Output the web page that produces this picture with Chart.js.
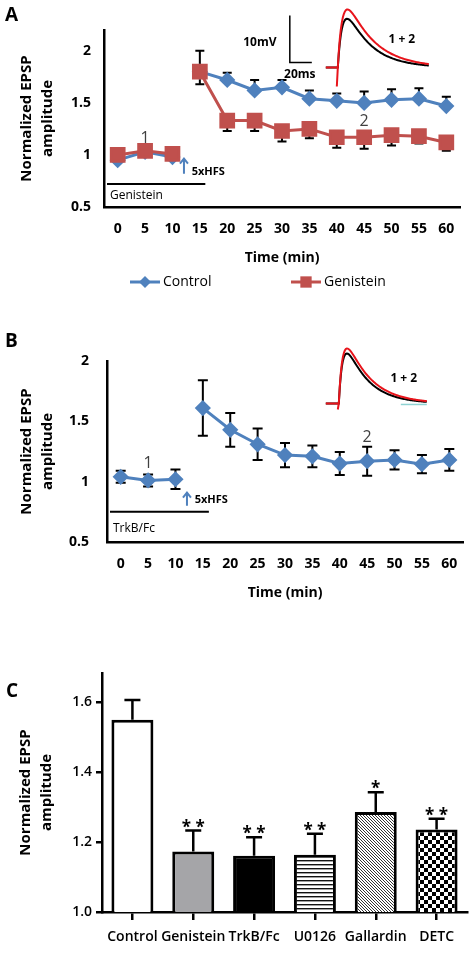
<!DOCTYPE html>
<html>
<head>
<meta charset="utf-8">
<script src="https://cdn.jsdelivr.net/npm/chart.js@4.4.0/dist/chart.umd.min.js"></script>
<style>
  html, body { margin: 0; padding: 0; background: #fff; }
  body { width: 472px; height: 961px; position: relative; overflow: hidden; }
  canvas { position: absolute; left: 0; }
  #chartA { top: 0; }
  #chartB { top: 300px; }
  #chartC { top: 620px; }
</style>
</head>
<body>
<canvas id="chartA" width="472" height="300"></canvas>
<canvas id="chartB" width="472" height="320"></canvas>
<canvas id="chartC" width="472" height="341"></canvas>
<script>
// Time course (panels A and B)
const timeLabels = ['0', '5', '10', '15', '20', '25', '30', '35', '40', '45', '50', '55', '60'];
const controlA = [0.95, 1.03, 0.98, 1.80, 1.72, 1.62, 1.65, 1.54, 1.52, 1.50, 1.53, 1.54, 1.47];
const controlAErr = [0.02, 0.02, 0.02, 0.20, 0.07, 0.10, 0.07, 0.08, 0.07, 0.11, 0.10, 0.10, 0.09];
const genisteinA = [1.00, 1.04, 1.01, 1.80, 1.33, 1.33, 1.23, 1.25, 1.17, 1.17, 1.19, 1.18, 1.12];
const genisteinAErr = [0.02, 0.02, 0.02, 0.12, 0.10, 0.10, 0.10, 0.09, 0.10, 0.11, 0.10, 0.07, 0.08];
const trkbB = [1.04, 1.01, 1.02, 1.61, 1.43, 1.31, 1.22, 1.21, 1.15, 1.17, 1.18, 1.145, 1.18];
const trkbBErr = [0.05, 0.05, 0.08, 0.23, 0.14, 0.13, 0.10, 0.09, 0.095, 0.12, 0.08, 0.075, 0.09];
const yTicksAB = [0.5, 1, 1.5, 2];
const hfsIndex = 2; // no line drawn between 10 and 15 min (HFS)

// Summary bars (panel C)
const groupsC = ['Control', 'Genistein', 'TrkB/Fc', 'U0126', 'Gallardin', 'DETC'];
const meansC = [1.55, 1.173, 1.161, 1.164, 1.286, 1.236];
const semC = [0.057, 0.06, 0.053, 0.06, 0.057, 0.031];
const starsC = ['', '**', '**', '**', '*', '**'];
const yTicksC = [1.0, 1.2, 1.4, 1.6];

const BLUE = '#4f81bd';
const RED = '#c0504d';
const FONT = '"Open Sans", sans-serif';

/**
 * Error bars drawn from the y scale
 */
function drawErrors(chart, opts) {
    const ctx = chart.ctx;
    const y = chart.scales.y;
    opts.bars.forEach(b => {
        const meta = chart.getDatasetMeta(b.dataset);
        const values = chart.data.datasets[b.dataset].data;
        ctx.save();
        ctx.strokeStyle = '#000';
        ctx.lineWidth = opts.width;
        meta.data.forEach((el, i) => {
            const x = el.x;
            const yc = y.getPixelForValue(values[i]);
            const ends = [];
            if (b.dir !== 'down') ends.push(y.getPixelForValue(values[i] + b.err[i]));
            if (b.dir !== 'up') ends.push(y.getPixelForValue(values[i] - b.err[i]));
            ends.forEach(ye => {
                ctx.beginPath();
                ctx.moveTo(x, yc);
                ctx.lineTo(x, ye);
                ctx.moveTo(x - opts.cap, ye);
                ctx.lineTo(x + opts.cap, ye);
                ctx.stroke();
            });
        });
        ctx.restore();
    });
}

const errorBarPlugin = {
    id: 'errorBars',
    beforeDatasetsDraw(chart, args, opts) { if (!opts.after) drawErrors(chart, opts); },
    afterDatasetsDraw(chart, args, opts) { if (opts.after) drawErrors(chart, opts); }
};

/**
 * Difference of exponentials, used for the EPSP sketch in the insets
 */
function epspShape(t, rise, decay) {
    return Math.exp(-t / decay) - Math.exp(-t / rise);
}

function drawTrace(ctx, x0, base, tr) {
    let peak = 0;
    for (let t = 0; t < 60; t += 0.25) peak = Math.max(peak, epspShape(t, tr.rise, tr.decay));
    ctx.save();
    ctx.strokeStyle = tr.color;
    ctx.lineWidth = 2;
    ctx.beginPath();
    ctx.moveTo(x0, base);
    ctx.lineTo(x0 + tr.start, base);
    if (tr.artifact) {
        ctx.lineTo(x0 + tr.start - 1, base + tr.artifact);
        ctx.lineTo(x0 + tr.start, base);
    }
    for (let t = 0; t <= tr.len; t += 1) {
        ctx.lineTo(x0 + tr.start + t, base - tr.amp * epspShape(t, tr.rise, tr.decay) / peak);
    }
    ctx.stroke();
    ctx.restore();
}

/**
 * Annotations of the time-course panels
 */
const timeNotesPlugin = {
    id: 'timeNotes',
    afterDraw(chart, args, o) {
        const { ctx, chartArea } = chart;
        const px = v => chart.scales.x.getPixelForValue(v);
        const py = v => chart.scales.y.getPixelForValue(v);
        ctx.save();
        ctx.textBaseline = 'middle';

        // panel letter
        ctx.fillStyle = '#000';
        ctx.textAlign = 'left';
        ctx.font = `bold 19px ${FONT}`;
        ctx.fillText(o.letter, o.letterPos[0], o.letterPos[1]);

        // epoch numbers
        ctx.fillStyle = '#404040';
        ctx.textAlign = 'center';
        ctx.font = `16px ${FONT}`;
        o.marks.forEach(m => ctx.fillText(m.text, px(m.x), py(m.y)));

        // HFS arrow
        const ax = px(o.arrow.x);
        const y1 = py(o.arrow.from), y2 = py(o.arrow.to);
        ctx.strokeStyle = BLUE;
        ctx.lineWidth = 2;
        ctx.beginPath();
        ctx.moveTo(ax, y1);
        ctx.lineTo(ax, y2);
        ctx.moveTo(ax - 4, y2 + 5);
        ctx.lineTo(ax, y2);
        ctx.lineTo(ax + 4, y2 + 5);
        ctx.stroke();
        ctx.fillStyle = '#000';
        ctx.textAlign = 'left';
        ctx.font = `bold 11px ${FONT}`;
        ctx.fillText('5xHFS', px(o.hfs.x), py(o.hfs.y));

        // drug application bar
        ctx.strokeStyle = '#000';
        ctx.lineWidth = 2;
        ctx.beginPath();
        ctx.moveTo(chartArea.left + 3, py(o.drug.y));
        ctx.lineTo(px(o.drug.to), py(o.drug.y));
        ctx.stroke();
        ctx.font = `12px ${FONT}`;
        ctx.fillText(o.drug.text, chartArea.left + 6, py(o.drug.textY));

        // inset traces
        const x0 = px(o.inset.x), base = py(o.inset.base);
        if (o.inset.cyan) {
            ctx.strokeStyle = '#8fd3d3';
            ctx.lineWidth = 1.5;
            ctx.beginPath();
            ctx.moveTo(x0 + o.inset.cyan[0], base + 1);
            ctx.lineTo(x0 + o.inset.cyan[1], base + 1);
            ctx.stroke();
        }
        o.inset.traces.forEach(tr => drawTrace(ctx, x0, base, tr));
        ctx.fillStyle = '#000';
        ctx.textAlign = 'center';
        ctx.font = `bold 12px ${FONT}`;
        ctx.fillText('1 + 2', x0 + o.inset.label[0], base + o.inset.label[1]);
        if (o.inset.scaleBar) {
            const sb = o.inset.scaleBar;
            ctx.strokeStyle = '#000';
            ctx.lineWidth = 1.5;
            ctx.beginPath();
            ctx.moveTo(x0 + sb.x, base + sb.y - sb.h);
            ctx.lineTo(x0 + sb.x, base + sb.y);
            ctx.lineTo(x0 + sb.x + sb.w, base + sb.y);
            ctx.stroke();
            ctx.font = `bold 12px ${FONT}`;
            ctx.fillText('10mV', x0 + sb.mv[0], base + sb.mv[1]);
            ctx.fillText('20ms', x0 + sb.ms[0], base + sb.ms[1]);
        }

        // legend (line + marker, like the series)
        if (o.legend) {
            ctx.font = `14px ${FONT}`;
            ctx.textAlign = 'left';
            o.legend.forEach(item => {
                const ds = chart.data.datasets[item.dataset];
                ctx.strokeStyle = ds.borderColor;
                ctx.fillStyle = ds.borderColor;
                ctx.lineWidth = 3;
                ctx.beginPath();
                ctx.moveTo(item.x, item.y);
                ctx.lineTo(item.x + 30, item.y);
                ctx.stroke();
                Chart.helpers.drawPoint(ctx, { pointStyle: ds.pointStyle, radius: item.r, rotation: 0, borderWidth: 0 }, item.x + 15, item.y);
                ctx.fillStyle = '#000';
                ctx.fillText(ds.label, item.x + 33, item.y);
            });
        }
        ctx.restore();
    }
};

// hide the segment spanning the HFS
const hfsGap = { borderColor: c => (c.p0DataIndex === hfsIndex ? 'rgba(0,0,0,0)' : undefined) };

function timeScales(opts) {
    return {
        x: {
            offset: true,
            grid: { drawOnChartArea: false, drawTicks: false },
            border: { color: '#000', width: 2.5 },
            ticks: { color: '#000', font: { family: FONT, size: 14, weight: 'bold' }, padding: 14, maxRotation: 0, autoSkip: false },
            title: { display: true, text: 'Time (min)', color: '#000', font: { family: FONT, size: 14, weight: 'bold', lineHeight: 1.2 }, padding: { top: 0, bottom: opts.titlePad } },
            afterFit: s => { s.height = opts.xHeight; }
        },
        y: {
            min: 0.5,
            max: opts.yMax,
            afterBuildTicks: s => { s.ticks = yTicksAB.map(v => ({ value: v })); },
            grid: { drawOnChartArea: false, drawTicks: false },
            border: { color: '#000', width: 2.5 },
            ticks: { color: '#000', font: { family: FONT, size: 14, weight: 'bold' }, padding: opts.yPad, callback: v => String(v) },
            title: { display: true, text: ['Normalized EPSP', 'amplitude'], color: '#000', font: { family: FONT, size: 15, weight: 'bold', lineHeight: 1.35 }, padding: { top: 17, bottom: 0 } },
            afterFit: s => { s.width = opts.yWidth; }
        }
    };
}

// Panel A
new Chart(document.getElementById('chartA'), {
    type: 'line',
    data: {
        labels: timeLabels,
        datasets: [
            { label: 'Control', data: controlA, borderColor: BLUE, backgroundColor: BLUE, pointBackgroundColor: BLUE, borderWidth: 3, pointStyle: 'rectRot', pointRadius: 6, order: 2, segment: hfsGap },
            { label: 'Genistein', data: genisteinA, borderColor: RED, backgroundColor: RED, pointBackgroundColor: RED, borderWidth: 3, pointStyle: 'rect', pointRadius: 9, order: 1, segment: hfsGap }
        ]
    },
    options: {
        responsive: false,
        animation: false,
        layout: { padding: { top: 30, right: 6, bottom: 28, left: 0 } },
        plugins: {
            legend: { display: false },
            tooltip: { enabled: false },
            errorBars: {
                width: 2, cap: 4.5,
                bars: [
                    { dataset: 0, err: controlAErr, dir: 'up' },
                    { dataset: 1, err: genisteinAErr, dir: 'down' }
                ]
            },
            timeNotes: {
                letter: 'A', letterPos: [5, 16],
                marks: [{ text: '1', x: 1, y: 1.16 }, { text: '2', x: 9, y: 1.32 }],
                arrow: { x: 2.42, from: 0.82, to: 0.965 },
                hfs: { x: 2.7, y: 0.84 },
                drug: { y: 0.72, to: 3.2, text: 'Genistein', textY: 0.61 },
                inset: {
                    x: 7.6, base: 1.84, label: [76, -28],
                    traces: [
                        { color: '#000', start: 12, len: 91, amp: 48.7, rise: 4.5, decay: 24 },
                        { color: '#e8141b', start: 12, len: 91, amp: 58, rise: 4.5, decay: 27, artifact: 19 }
                    ],
                    scaleBar: { x: -36, y: -5, h: 47, w: 22, mv: [-66, -25], ms: [-26, 7] }
                },
                legend: [{ dataset: 0, x: 130, y: 282, r: 6 }, { dataset: 1, x: 291, y: 282, r: 8 }]
            }
        },
        scales: timeScales({ xHeight: 65, titlePad: 6, yMax: 2.2, yPad: 13, yWidth: 104 })
    },
    plugins: [errorBarPlugin, timeNotesPlugin]
});

// Panel B
new Chart(document.getElementById('chartB'), {
    type: 'line',
    data: {
        labels: timeLabels,
        datasets: [
            { label: 'TrkB/Fc', data: trkbB, borderColor: BLUE, backgroundColor: BLUE, pointBackgroundColor: BLUE, borderWidth: 3, pointStyle: 'rectRot', pointRadius: 6, segment: hfsGap }
        ]
    },
    options: {
        responsive: false,
        animation: false,
        layout: { padding: { top: 61, right: 6, bottom: 18, left: 0 } },
        plugins: {
            legend: { display: false },
            tooltip: { enabled: false },
            errorBars: { width: 2, cap: 5, bars: [{ dataset: 0, err: trkbBErr, dir: 'both' }] },
            timeNotes: {
                letter: 'B', letterPos: [5, 42],
                marks: [{ text: '1', x: 1, y: 1.15 }, { text: '2', x: 9, y: 1.37 }],
                arrow: { x: 2.42, from: 0.8, to: 0.91 },
                hfs: { x: 2.7, y: 0.85 },
                drug: { y: 0.75, to: 3.22, text: 'TrkB/Fc', textY: 0.61 },
                inset: {
                    x: 7.49, base: 1.648, label: [78, -25], cyan: [75, 101],
                    traces: [
                        { color: '#000', start: 13, len: 88, amp: 50, rise: 3.8, decay: 22 },
                        { color: '#e8141b', start: 13, len: 88, amp: 55, rise: 3.8, decay: 24, artifact: 6 }
                    ]
                }
            }
        },
        scales: timeScales({ xHeight: 60, titlePad: 1, yMax: 2, yPad: 18, yWidth: 107 })
    },
    plugins: [errorBarPlugin, timeNotesPlugin]
});

// Panel C fills
const ctxC = document.getElementById('chartC').getContext('2d');
function makePattern(size, draw) {
    const c = document.createElement('canvas');
    c.width = size;
    c.height = size;
    const g = c.getContext('2d');
    g.fillStyle = '#fff';
    g.fillRect(0, 0, size, size);
    draw(g);
    return ctxC.createPattern(c, 'repeat');
}
const hStripes = makePattern(4, g => { g.fillStyle = '#111'; g.fillRect(0, 0, 4, 1.4); });
const diagStripes = makePattern(3, g => {
    g.strokeStyle = '#333';
    g.lineWidth = 1;
    g.beginPath();
    g.moveTo(-1, -1); g.lineTo(4, 4);
    g.moveTo(2, -1); g.lineTo(4, 1);
    g.moveTo(-1, 2); g.lineTo(1, 4);
    g.stroke();
});
const checker = makePattern(8, g => { g.fillStyle = '#000'; g.fillRect(0, 0, 4, 4); g.fillRect(4, 4, 4, 4); });
const fillsC = ['#ffffff', '#a5a5a8', '#000000', hStripes, diagStripes, checker];

const starsPlugin = {
    id: 'starNotes',
    afterDraw(chart) {
        const { ctx } = chart;
        const y = chart.scales.y;
        const meta = chart.getDatasetMeta(0);
        ctx.save();
        ctx.fillStyle = '#000';
        ctx.textAlign = 'center';
        ctx.textBaseline = 'alphabetic';
        ctx.font = `bold 17px ${FONT}`;
        starsC.forEach((s, i) => {
            if (!s) return;
            const capY = y.getPixelForValue(meansC[i] + semC[i]);
            ctx.fillText(s.split('').join(' '), meta.data[i].x, capY + 2);
        });
        ctx.font = `bold 19px ${FONT}`;
        ctx.textAlign = 'left';
        ctx.textBaseline = 'middle';
        ctx.fillText('C', 6, 72);
        ctx.restore();
    }
};

// Panel C
new Chart(ctxC, {
    type: 'bar',
    data: {
        labels: groupsC,
        datasets: [{
            data: meansC,
            backgroundColor: fillsC,
            borderColor: '#000',
            borderWidth: 3,
            barPercentage: 0.69,
            categoryPercentage: 1
        }]
    },
    options: {
        responsive: false,
        animation: false,
        layout: { padding: { top: 53, right: 5, bottom: 0, left: 0 } },
        plugins: {
            legend: { display: false },
            tooltip: { enabled: false },
            errorBars: { after: true, width: 2.5, cap: 8, bars: [{ dataset: 0, err: semC, dir: 'up' }] }
        },
        scales: {
            x: {
                grid: { offset: false, drawOnChartArea: false, tickLength: 8, color: '#000', lineWidth: 2.5 },
                border: { color: '#000', width: 2.5 },
                ticks: { color: '#000', font: { family: FONT, size: 14, weight: '600' }, padding: 9, maxRotation: 0, autoSkip: false },
                afterFit: s => { s.height = 49; }
            },
            y: {
                min: 1.0,
                max: 1.684,
                afterBuildTicks: s => { s.ticks = yTicksC.map(v => ({ value: v })); },
                grid: { drawOnChartArea: false, tickLength: 6, color: '#000', lineWidth: 2.5 },
                border: { color: '#000', width: 2.5 },
                ticks: { color: '#000', font: { family: FONT, size: 14, weight: '600' }, padding: 4, callback: v => v.toFixed(1) },
                title: { display: true, text: ['Normalized EPSP', 'amplitude'], color: '#000', font: { family: FONT, size: 15, weight: 'bold', lineHeight: 1.35 }, padding: { top: 16, bottom: 0 } },
                afterFit: s => { s.width = 102; }
            }
        }
    },
    plugins: [errorBarPlugin, starsPlugin]
});
</script>
</body>
</html>
